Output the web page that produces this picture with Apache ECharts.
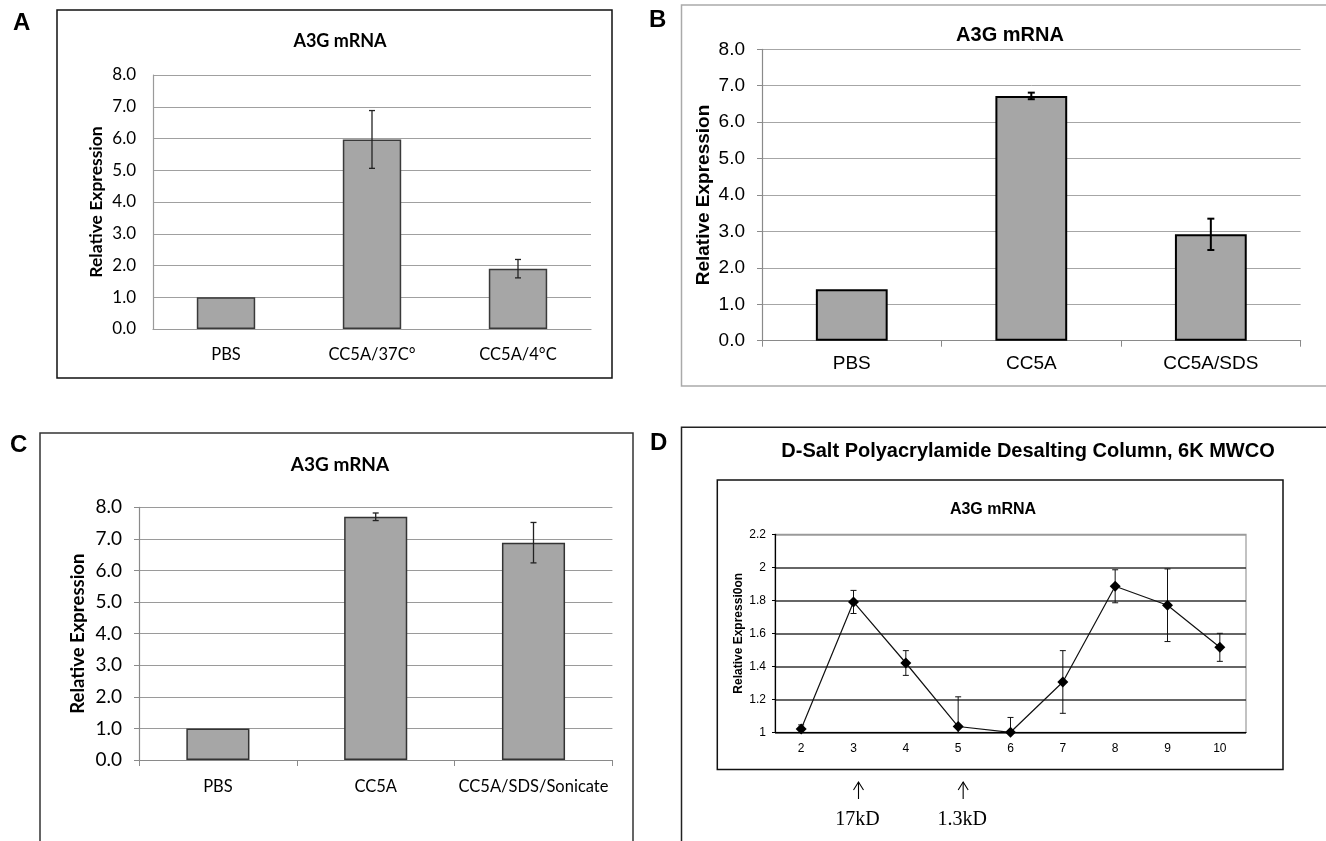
<!DOCTYPE html>
<html><head><meta charset="utf-8">
<script src="https://cdn.jsdelivr.net/npm/echarts@6/dist/echarts.min.js"></script>
<style>html,body{margin:0;padding:0;background:#fff}#c{width:1326px;height:841px}</style>
</head><body><div id="c"></div>
<script>
// ---- Data ----
const catsA = ['PBS', 'CC5A/37C°', 'CC5A/4°C'];
const valsA = [1.0, 5.97, 1.90];
const errA = [0, 0.91, 0.29];

const catsB = ['PBS', 'CC5A', 'CC5A/SDS'];
const valsB = [1.41, 6.72, 2.92];
const errB = [0, 0.09, 0.43];

const catsC = ['PBS', 'CC5A', 'CC5A/SDS/Sonicate'];
const valsC = [1.0, 7.70, 6.88];
const errC = [0, 0.12, 0.64];

const fractionsD = ['2', '3', '4', '5', '6', '7', '8', '9', '10'];
const valsD = [1.02, 1.79, 1.42, 1.035, 1.0, 1.305, 1.885, 1.77, 1.515];
const errD = [0.025, 0.07, 0.075, 0.18, 0.09, 0.19, 0.10, 0.22, 0.085];
const markersD = [{ fraction: '3', label: '17kD' }, { fraction: '5', label: '1.3kD' }];

const titleABC = 'A3G mRNA';
const titleD = 'D-Salt Polyacrylamide Desalting Column, 6K MWCO';
const yNameABC = 'Relative Expression';
const yNameD = 'Relative Expressi0on';

// ---- helpers ----
function errData(vals, errs) {
  const out = [];
  vals.forEach((v, i) => { if (errs[i] > 0) out.push([i, v - errs[i], v + errs[i]]); });
  return out;
}
function errRender(capHalf, color, width, yMin) {
  return function (params, api) {
    const x = api.value(0);
    const rawLo = api.value(1);
    const lo = Math.max(rawLo, yMin);
    const hi = api.value(2);
    const pLo = api.coord([x, lo]);
    const pHi = api.coord([x, hi]);
    const st = { stroke: color, lineWidth: width };
    const ch = [
      { type: 'line', shape: { x1: pHi[0], y1: pHi[1], x2: pLo[0], y2: pLo[1] }, style: st },
      { type: 'line', shape: { x1: pHi[0] - capHalf, y1: pHi[1], x2: pHi[0] + capHalf, y2: pHi[1] }, style: st }
    ];
    if (rawLo >= yMin) ch.push({ type: 'line', shape: { x1: pLo[0] - capHalf, y1: pLo[1], x2: pLo[0] + capHalf, y2: pLo[1] }, style: st });
    return { type: 'group', children: ch };
  };
}
const calibri = 'Lato, "Open Sans", sans-serif';
const arial = '"Liberation Sans", Arial, sans-serif';
const serif = '"Liberation Serif", "Times New Roman", serif';

function barY(font, size, nameSize, nameGap, gridColor, gridW, axisColor, showTick) {
  return {
    type: 'value', min: 0, max: 8, interval: 1,
    name: yNameABC, nameLocation: 'middle', nameRotate: 90, nameGap: nameGap,
    nameTextStyle: { fontFamily: font, fontWeight: 'bold', fontSize: nameSize, color: '#000' },
    axisLabel: { formatter: v => v.toFixed(1), fontFamily: font, fontSize: size, color: '#000', margin: 17 },
    axisLine: { show: true, lineStyle: { color: axisColor, width: 1.2 } },
    axisTick: { show: showTick, length: 5, lineStyle: { color: axisColor } },
    splitLine: { show: true, lineStyle: { color: gridColor, width: gridW } }
  };
}
function barX(cats, font, size, margin, axisColor, showTick) {
  return {
    type: 'category', data: cats,
    axisLabel: { fontFamily: font, fontSize: size, color: '#000', margin: margin, interval: 0 },
    axisLine: { lineStyle: { color: axisColor, width: 1.2 } },
    axisTick: { show: showTick, length: 6, alignWithLabel: false, lineStyle: { color: axisColor } }
  };
}

const chart = echarts.init(document.getElementById('c'), null, { renderer: 'canvas' });

const option = {
  animation: false,
  backgroundColor: '#fff',
  title: [
    { text: titleABC, left: 335, top: 27, textAlign: 'center', textStyle: { fontFamily: calibri, fontWeight: 'bold', fontSize: 18, color: '#000' } },
    { text: titleABC, left: 1005, top: 20, textAlign: 'center', textStyle: { fontFamily: arial, fontWeight: 'bold', fontSize: 20, color: '#000' } },
    { text: titleABC, left: 335, top: 450, textAlign: 'center', textStyle: { fontFamily: calibri, fontWeight: 'bold', fontSize: 19, color: '#000' } },
    { text: titleD, left: 1023, top: 436, textAlign: 'center', textStyle: { fontFamily: arial, fontWeight: 'bold', fontSize: 20, color: '#000' } },
    { text: titleABC, left: 988, top: 497, textAlign: 'center', textStyle: { fontFamily: arial, fontWeight: 'bold', fontSize: 16, color: '#000' } }
  ],
  grid: [
    { left: 153, top: 75, width: 438, height: 254 },
    { left: 762, top: 49.3, width: 538.6, height: 291.4 },
    { left: 139, top: 507.3, width: 473.4, height: 252.7 },
    { left: 775, top: 534.3, width: 471, height: 198, show: true, borderColor: '#9a9a9a', borderWidth: 1.2, backgroundColor: 'transparent' }
  ],
  xAxis: [
    Object.assign(barX(catsA, calibri, 16.5, 17, '#9a9a9a', false), { gridIndex: 0 }),
    Object.assign(barX(catsB, arial, 19, 14, '#8a8a8a', true), { gridIndex: 1 }),
    Object.assign(barX(catsC, calibri, 16.5, 18, '#8a8a8a', true), { gridIndex: 2 }),
    {
      gridIndex: 3, type: 'category', data: fractionsD,
      axisLabel: { fontFamily: arial, fontSize: 12, color: '#000', margin: 10 },
      axisLine: { lineStyle: { color: '#000', width: 1.2 } },
      axisTick: { length: 4, alignWithLabel: false, lineStyle: { color: '#000' } }
    }
  ],
  yAxis: [
    Object.assign(barY(calibri, 17, 17.5, 48, '#a0a0a0', 1.2, '#9a9a9a', false), { gridIndex: 0 }),
    Object.assign(barY(arial, 19, 19, 49, '#a6a6a6', 1, '#8a8a8a', true), { gridIndex: 1 }),
    Object.assign(barY(calibri, 19, 18.5, 51, '#9a9a9a', 1.2, '#8a8a8a', true), { gridIndex: 2 }),
    {
      gridIndex: 3, type: 'value', min: 1, max: 2.2, interval: 0.2,
      name: yNameD, nameLocation: 'middle', nameRotate: 90, nameGap: 30,
      nameTextStyle: { fontFamily: arial, fontWeight: 'bold', fontSize: 12, color: '#000' },
      axisLabel: { fontFamily: arial, fontSize: 12, color: '#000', margin: 9 },
      axisLine: { show: true, lineStyle: { color: '#000', width: 1.2 } },
      axisTick: { show: true, length: 3, lineStyle: { color: '#000' } },
      splitLine: { show: true, lineStyle: { color: ['#333', '#333', '#333', '#333', '#333', '#333', '#9a9a9a'], width: 1.5 } }
    }
  ],
  series: [
    { type: 'bar', xAxisIndex: 0, yAxisIndex: 0, data: valsA, barWidth: '40%',
      itemStyle: { color: '#a6a6a6', borderColor: '#3a3a3a', borderWidth: 1.5 } },
    { type: 'custom', xAxisIndex: 0, yAxisIndex: 0, data: errData(valsA, errA), z: 5,
      renderItem: errRender(3, '#222', 1.3, 0), encode: { x: 0, y: [1, 2] } },
    { type: 'bar', xAxisIndex: 1, yAxisIndex: 1, data: valsB, barWidth: '40%',
      itemStyle: { color: '#a6a6a6', borderColor: '#000', borderWidth: 2 } },
    { type: 'custom', xAxisIndex: 1, yAxisIndex: 1, data: errData(valsB, errB), z: 5,
      renderItem: errRender(3.5, '#000', 2, 0), encode: { x: 0, y: [1, 2] } },
    { type: 'bar', xAxisIndex: 2, yAxisIndex: 2, data: valsC, barWidth: '40%',
      itemStyle: { color: '#a6a6a6', borderColor: '#333', borderWidth: 1.5 } },
    { type: 'custom', xAxisIndex: 2, yAxisIndex: 2, data: errData(valsC, errC), z: 5,
      renderItem: errRender(3, '#222', 1.3, 0), encode: { x: 0, y: [1, 2] } },
    { type: 'custom', xAxisIndex: 3, yAxisIndex: 3, data: errData(valsD, errD), z: 3,
      renderItem: errRender(3, '#111', 1, 1), encode: { x: 0, y: [1, 2] } },
    { type: 'line', xAxisIndex: 3, yAxisIndex: 3, data: valsD, z: 4,
      symbol: 'diamond', symbolSize: 11, showSymbol: true,
      itemStyle: { color: '#000' }, lineStyle: { color: '#111', width: 1.2 } }
  ],
  graphic: [
    { type: 'rect', id: 'frameA', shape: { x: 57, y: 10, width: 555, height: 368 }, style: { fill: 'none', stroke: '#111', lineWidth: 1.5 }, silent: true },
    { type: 'polyline', id: 'frameB', shape: { points: [[1330, 5], [681.5, 5], [681.5, 386], [1330, 386]] }, style: { fill: 'none', stroke: '#aaaaaa', lineWidth: 1.5 }, silent: true },
    { type: 'polyline', id: 'frameC', shape: { points: [[40, 845], [40, 433], [633, 433], [633, 845]] }, style: { fill: 'none', stroke: '#333', lineWidth: 1.5 }, silent: true },
    { type: 'polyline', id: 'frameD', shape: { points: [[681.5, 845], [681.5, 427.3], [1330, 427.3]] }, style: { fill: 'none', stroke: '#222', lineWidth: 1.5 }, silent: true },
    { type: 'rect', id: 'innerD', shape: { x: 717.3, y: 480, width: 565.7, height: 289.5 }, style: { fill: 'none', stroke: '#111', lineWidth: 1.5 }, silent: true },
    { type: 'text', id: 'lA', left: 13, top: 11, style: { text: 'A', fontFamily: arial, fontWeight: 'bold', fontSize: 24, fill: '#000' } },
    { type: 'text', id: 'lB', left: 649, top: 8, style: { text: 'B', fontFamily: arial, fontWeight: 'bold', fontSize: 24, fill: '#000' } },
    { type: 'text', id: 'lC', left: 10, top: 433, style: { text: 'C', fontFamily: arial, fontWeight: 'bold', fontSize: 24, fill: '#000' } },
    { type: 'text', id: 'lD', left: 650, top: 431, style: { text: 'D', fontFamily: arial, fontWeight: 'bold', fontSize: 24, fill: '#000' } }
  ]
};
chart.setOption(option);

// Arrow annotations under fractions of panel D, placed through the axis scale
const extra = [];
markersD.forEach((m, k) => {
  const px = chart.convertToPixel({ xAxisIndex: 3 }, m.fraction) + 5;
  const st = { stroke: '#000', lineWidth: 1.1, fill: 'none' };
  extra.push({ type: 'line', id: 'arL' + k, shape: { x1: px, y1: 782, x2: px, y2: 799 }, style: st, silent: true });
  extra.push({ type: 'polyline', id: 'arH' + k, shape: { points: [[px - 5, 790], [px, 782], [px + 5, 790]] }, style: st, silent: true });
  extra.push({ type: 'text', id: 'arT' + k, x: px - 1, y: 820, style: { text: m.label, fontFamily: serif, fontSize: 20, fill: '#000', textAlign: 'center', textVerticalAlign: 'middle' }, silent: true });
});
chart.setOption({ graphic: extra });
</script>
</body></html>
